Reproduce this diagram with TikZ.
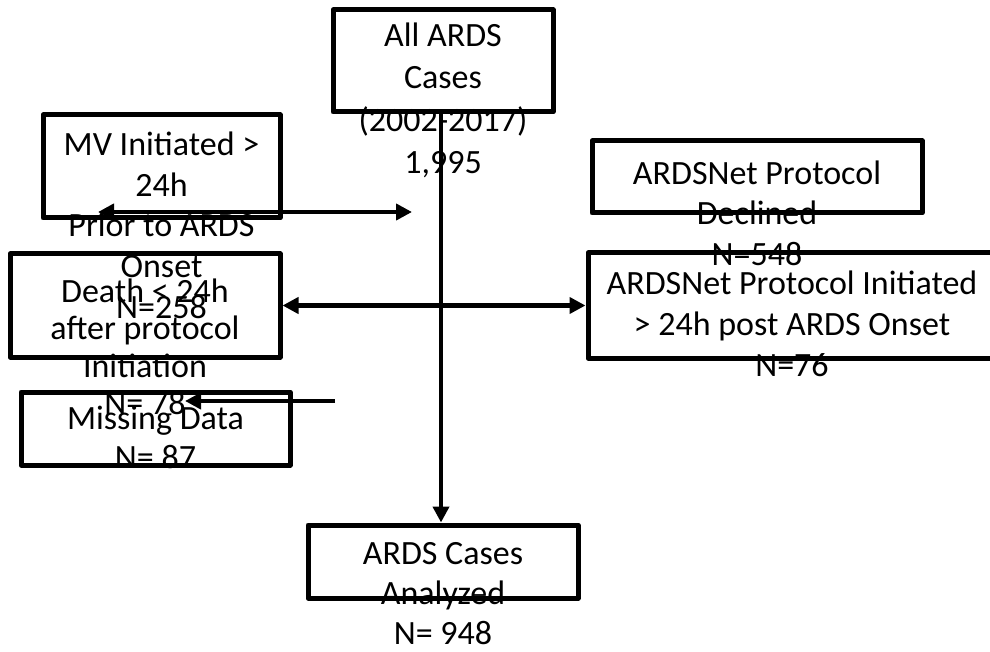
\documentclass[tikz,border=0pt]{standalone}
\usepackage{fontspec}
\setmainfont{Carlito}
\usepackage{tikz}
\usetikzlibrary{positioning}
\usetikzlibrary{arrows.meta}

\begin{document}
\begin{tikzpicture}[
    x=1pt, y=-1pt,
    box/.style={draw, line width=5pt, line join=round, inner sep=0pt},
    label/.style={align=center, inner sep=0pt, font=\fontsize{34}{#1}\selectfont},
    label/.default=41,
    link/.style={line width=4.5pt, -{Triangle[length=16pt,width=16pt]}},
    twolink/.style={line width=4.5pt, {Triangle[length=16pt,width=16pt]}-{Triangle[length=16pt,width=16pt]}}]
    \useasboundingbox (0,0) rectangle (990,652);

    % Riquadri
    \node [box, minimum width=220pt, minimum height=102pt] (all) at (443,61) {};
    \node [box, minimum width=237pt, minimum height=103pt] (mv) at (161.5,166.5) {};
    \node [box, minimum width=270pt, minimum height=103pt] (death) at (145,305.5) {};
    \node [box, minimum width=269pt, minimum height=73pt] (missing) at (155.5,428.5) {};
    \node [box, minimum width=330pt, minimum height=72pt] (declined) at (757,177) {};
    \node [box, minimum width=408pt, minimum height=105pt] (late) at (792,305.5) {};
    \node [box, minimum width=270pt, minimum height=73pt] (analyzed) at (443,561.5) {};

    % Testi (escono dai riquadri)
    \node [label=42.5, below=15pt of all.north] (allT) {All ARDS\\Cases\\(2002-2017)\\1,995};
    \node [label=40.75, below=19pt of mv.north] (mvT) {MV Initiated >\\24h\\Prior to ARDS\\Onset\\N=258};
    \node [label=37.5, below=27pt of death.north] (deathT) {Death < 24h\\after protocol\\Initiation\\N= 78};
    \node [label=39, below=16pt of missing.north] (missingT) {Missing Data\\N= 87};
    \node [label=40.5, below=22pt of declined.north] (declinedT) {ARDSNet Protocol\\Declined\\N=548};
    \node [label=41, below=20pt of late.north] (lateT) {ARDSNet Protocol Initiated\\> 24h post ARDS Onset\\N=76};
    \node [label=40, below=20pt of analyzed.north] (analyzedT) {ARDS Cases\\Analyzed\\N= 948};

    % Estremi liberi delle frecce
    \coordinate (mvL) at (98,212);
    \coordinate (mvR) at (412,212);
    \coordinate (missR) at (335,401);
    \coordinate (missL) at (185,401);

    % Frecce
    \draw [link] ([xshift=-2pt]all.south) -- ([xshift=-2pt]all.south |- analyzed.north);
    \draw [twolink] (mvL) -- (mvR);
    \draw [twolink] (death.east) -- (late.west);
    \draw [link] (missR) -- (missL);
\end{tikzpicture}
\end{document}
